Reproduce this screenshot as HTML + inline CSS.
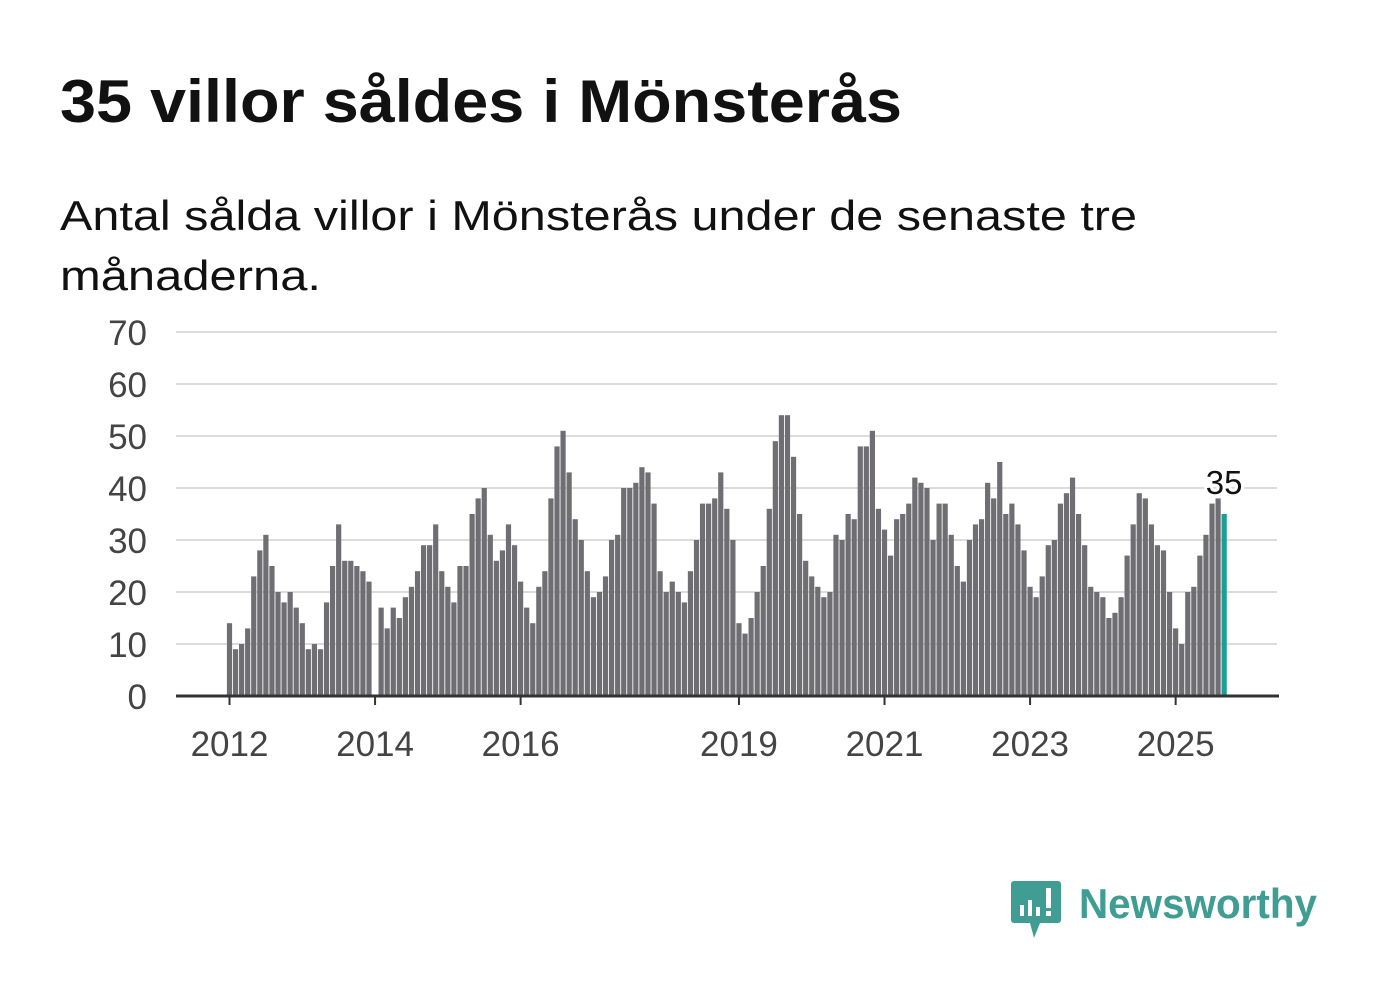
<!DOCTYPE html>
<html><head><meta charset="utf-8"><style>
html,body{margin:0;padding:0;background:#fff;}
svg{display:block;font-family:"Liberation Sans",sans-serif;}
</style></head><body>
<svg id="chart" width="1382" height="999" viewBox="0 0 1382 999">
<text x="60" y="122" font-size="60" font-weight="bold" fill="#111" textLength="842" lengthAdjust="spacingAndGlyphs">35 villor såldes i Mönsterås</text>
<text x="60" y="230" font-size="42" fill="#111" textLength="1077" lengthAdjust="spacingAndGlyphs">Antal sålda villor i Mönsterås under de senaste tre</text>
<text x="60" y="290" font-size="42" fill="#111" textLength="261" lengthAdjust="spacingAndGlyphs">månaderna.</text>
<g id="grid"></g>
<g id="bars"></g>
<g id="axes"></g>
<g>
<path d="M1014 881 h44 a3 3 0 0 1 3 3 v36 a3 3 0 0 1 -3 3 h-18 l-6 15 l-4 -15 h-16 a3 3 0 0 1 -3 -3 v-36 a3 3 0 0 1 3 -3z" fill="#3f9d93"/>
<rect x="1020" y="905" width="4" height="11" fill="#fff"/>
<rect x="1028" y="900" width="4" height="16" fill="#fff"/>
<rect x="1036" y="907" width="4" height="9" fill="#fff"/>
<rect x="1046" y="888" width="5" height="20" fill="#fff"/>
<rect x="1046" y="911" width="5" height="5" fill="#fff"/>
<text x="1079" y="918" font-size="42" font-weight="bold" fill="#3f9d93" textLength="238" lengthAdjust="spacingAndGlyphs">Newsworthy</text>
</g>
</svg>
<script>
const values = [
14,9,10,13,23,28,31,25,20,18,20,17,
14,9,10,9,18,25,33,26,26,25,24,22,
0,17,13,17,15,19,21,24,29,29,33,24,
21,18,25,25,35,38,40,31,26,28,33,29,
22,17,14,21,24,38,48,51,43,34,30,24,
19,20,23,30,31,40,40,41,44,43,37,24,
20,22,20,18,24,30,37,37,38,43,36,30,
14,12,15,20,25,36,49,54,54,46,35,26,
23,21,19,20,31,30,35,34,48,48,51,36,
32,27,34,35,37,42,41,40,30,37,37,31,
25,22,30,33,34,41,38,45,35,37,33,28,
21,19,23,29,30,37,39,42,35,29,21,20,
19,15,16,19,27,33,39,38,33,29,28,20,
13,10,20,21,27,31,37,38,35];
const yTicks = [0,10,20,30,40,50,60,70];
const xTickYears = [2012,2014,2016,2019,2021,2023,2025];
const startYear = 2012;
const lastLabel = "35";

const NS="http://www.w3.org/2000/svg";
const x0=229.5, step=6.065, yBase=696, yScale=52/10;
const xPos=i=>x0+i*step;
const yPos=v=>yBase-v*yScale;
function mk(tag,attrs,parent){const e=document.createElementNS(NS,tag);for(const k in attrs)e.setAttribute(k,attrs[k]);parent.appendChild(e);return e;}
const grid=document.getElementById('grid'),bars=document.getElementById('bars'),axes=document.getElementById('axes');
yTicks.forEach(t=>{
  if(t>0){const l=mk('line',{x1:176,x2:1277,y1:yPos(t),y2:yPos(t),stroke:'#dcdcdc','stroke-width':2},grid);
  
  }
  const tx=mk('text',{x:147,y:yPos(t)+13,'text-anchor':'end','font-size':35,fill:'#444'},axes);
  tx.textContent=t;
  
  
});
values.forEach((v,i)=>{
  const last=i===values.length-1;
  const r=mk('rect',{x:xPos(i)-2.6,y:yPos(v),width:5.2,height:v*yScale,fill:last?'#1a9e96':'#6f6e73'},bars);
  
  
});
const li=values.length-1;
const lbl=mk('text',{x:xPos(li),y:yPos(values[li])-20,'text-anchor':'middle','font-size':33,fill:'#111',stroke:'#fff','stroke-width':6,'paint-order':'stroke'},axes);
lbl.textContent=lastLabel;


const ax=mk('line',{x1:176,x2:1279,y1:yBase,y2:yBase,stroke:'#333','stroke-width':3},axes);


xTickYears.forEach(y=>{
  const x=xPos((y-startYear)*12);
  const t=mk('line',{x1:x,x2:x,y1:yBase,y2:yBase+9,stroke:'#333','stroke-width':2},axes);
  
  
  const tx=mk('text',{x:x,y:756,'text-anchor':'middle','font-size':35,fill:'#444'},axes);
  tx.textContent=y;
  
  
});
</script>
</body></html>
